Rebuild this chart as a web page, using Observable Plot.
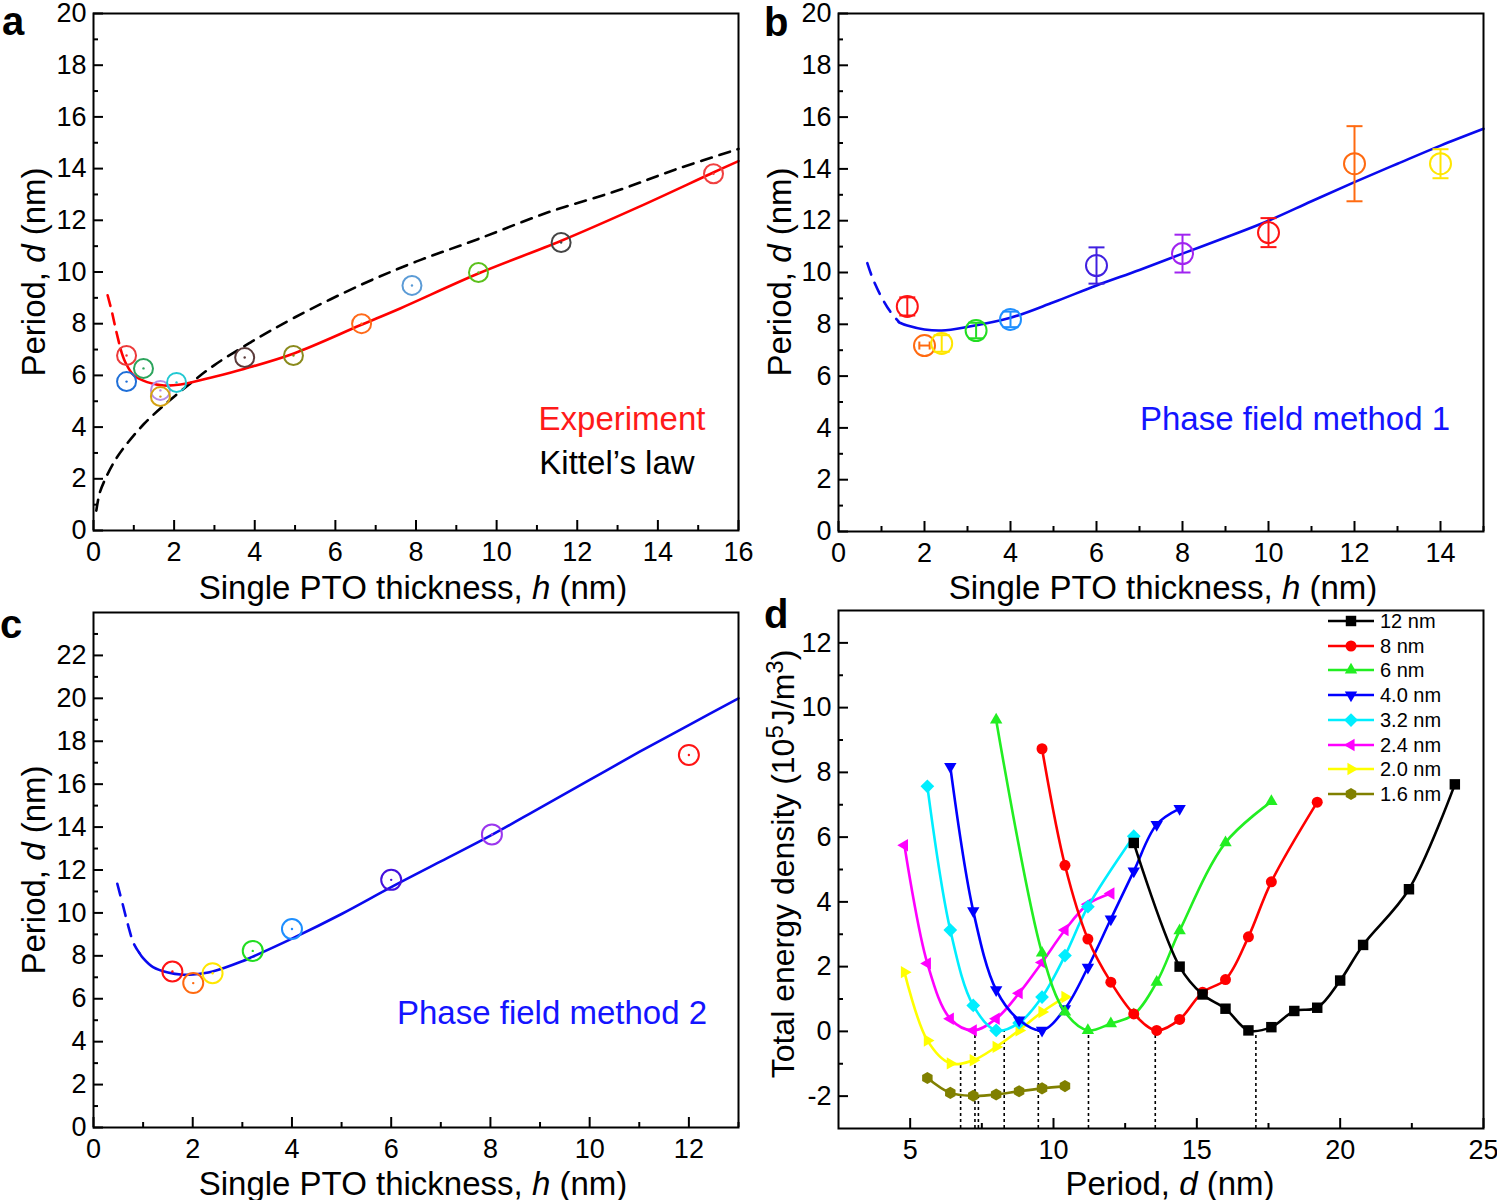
<!DOCTYPE html>
<html><head><meta charset="utf-8">
<script src="https://cdn.jsdelivr.net/npm/d3@7"></script>
<script src="https://cdn.jsdelivr.net/npm/@observablehq/plot@0.6"></script>
<style>
body{margin:0;background:#fff;font-family:"Liberation Sans",Arial,Helvetica,sans-serif;}
#wrap{position:relative;width:1497px;height:1200px;overflow:hidden;background:#fff;}
.panel{position:absolute;}
.lab{position:absolute;white-space:nowrap;color:#000;line-height:1;}
.ctr{transform:translate(-50%,-50%);}
.rot{transform:translate(-50%,-50%) rotate(-90deg);}
.leg{position:absolute;font-size:20px;line-height:1;white-space:nowrap;display:flex;align-items:center;}
</style></head><body><div id="wrap"></div>
<script>
// ---------------- Panel a: experiment ----------------
const aThickness = [0.82, 0.82, 1.24, 1.66, 1.66, 2.06, 3.75, 4.96, 6.65, 7.9, 9.55, 11.6, 15.38];
const aPeriod    = [6.77, 5.76, 6.27, 5.42, 5.18, 5.73, 6.69, 6.77, 8.0, 9.48, 9.98, 11.14, 13.8];
const aColor     = ["#ec3a3a","#1f6fd8","#2ca45c","#b58be6","#d4a212","#22c8d2","#5b3b3b","#8a8a1c","#ff6a1a","#5b9bd6","#5cc01c","#454545","#f04040"];
const aFitDashH  = [0.35, 0.45, 0.55, 0.67];
const aFitDashD  = [9.1, 8.5, 7.8, 7.03];
const aFitH      = [0.67, 0.79, 1.0, 1.33, 1.75, 2.16, 3.0, 3.73, 4.97, 6.63, 7.62, 9.56, 11.59, 13.5, 15.39, 16.0];
const aFitD      = [7.03, 6.51, 6.0, 5.74, 5.61, 5.65, 5.95, 6.25, 6.85, 7.95, 8.6, 9.95, 11.2, 12.5, 13.86, 14.29];
const kittelH    = [0.07, 0.15, 0.3, 0.55, 0.8, 1.25, 1.79, 2.41, 3.0, 3.9, 5.0, 6.63, 8.0, 9.5, 11.26, 13.0, 14.5, 16.0];
const kittelD    = [0.77, 1.43, 2.02, 2.75, 3.3, 4.12, 4.9, 5.7, 6.4, 7.28, 8.25, 9.5, 10.4, 11.25, 12.3, 13.15, 14.0, 14.76];

// ---------------- Panel b: phase field method 1 ----------------
const bThickness = [1.6, 2.0, 2.4, 3.2, 4.0, 6.0, 8.0, 10.0, 12.0, 14.0];
const bPeriod    = [8.69, 7.18, 7.26, 7.76, 8.19, 10.27, 10.73, 11.54, 14.2, 14.2];
const bErrD      = [0.35, 0, 0.32, 0.3, 0.3, 0.7, 0.73, 0.56, 1.45, 0.56];
const bErrH      = [0, 0.12, 0, 0, 0, 0, 0, 0, 0, 0];
const bColor     = ["#ff1414","#ff6a10","#ffe600","#22dd22","#1e8fff","#4020e0","#a024f0","#ff1414","#ff6a10","#ffe600"];
const bFitDashH  = [0.67, 0.8, 1.0, 1.2, 1.4];
const bFitDashD  = [10.36, 9.75, 9.05, 8.5, 8.1];
const bFitH      = [1.4, 1.6, 2.0, 2.4, 3.0, 4.0, 5.0, 6.0, 7.0, 8.0, 9.0, 10.0, 11.0, 12.0, 13.0, 14.0, 15.0];
const bFitD      = [8.08, 7.95, 7.8, 7.76, 7.9, 8.25, 8.85, 9.5, 10.1, 10.73, 11.35, 12.0, 12.75, 13.49, 14.2, 14.9, 15.55];

// ---------------- Panel c: phase field method 2 ----------------
const cThickness = [1.59, 2.01, 2.4, 3.21, 4.0, 6.0, 8.03, 12.0];
const cPeriod    = [7.27, 6.73, 7.19, 8.23, 9.25, 11.54, 13.66, 17.36];
const cColor     = ["#ff1414","#ff6a10","#ffe600","#22dd22","#1e8fff","#4410dd","#9a36ee","#ff1414"];
const cFitDashH  = [0.48, 0.6, 0.7, 0.81, 0.92];
const cFitDashD  = [11.36, 10.3, 9.4, 8.58, 8.15];
const cFitH      = [0.92, 1.0, 1.2, 1.5, 1.8, 2.0, 2.4, 3.0, 3.2, 4.0, 5.0, 6.0, 7.0, 8.0, 9.0, 10.0, 11.0, 12.0, 13.0];
const cFitD      = [8.15, 7.89, 7.47, 7.22, 7.12, 7.13, 7.27, 7.75, 7.95, 8.8, 9.95, 11.2, 12.4, 13.6, 14.9, 16.2, 17.5, 18.75, 20.0];

// ---------------- Panel d: total energy density vs period ----------------
const dSeriesNames = ["12 nm","8 nm","6 nm","4.0 nm","3.2 nm","2.4 nm","2.0 nm","1.6 nm"];
const dSeriesColors = ["#000000","#ff0000","#22ee22","#0000ff","#00eeff","#ff00ff","#ffff00","#808000"];
const d12x = [12.8, 14.4, 15.2, 16.0, 16.8, 17.6, 18.4, 19.2, 20.0, 20.8, 22.4, 24.0];
const d12y = [5.82, 2.0, 1.14, 0.70, 0.03, 0.13, 0.63, 0.73, 1.57, 2.67, 4.39, 7.63];
const d8x  = [9.6, 10.4, 11.2, 12.0, 12.8, 13.6, 14.4, 15.2, 16.0, 16.8, 17.6, 19.2];
const d8y  = [8.73, 5.13, 2.85, 1.52, 0.54, 0.03, 0.37, 1.21, 1.6, 2.92, 4.62, 7.08];
const d6x  = [8.0, 9.6, 10.4, 11.2, 12.0, 12.8, 13.6, 14.4, 16.0, 17.6];
const d6y  = [9.62, 2.42, 0.6, 0.03, 0.24, 0.52, 1.52, 3.11, 5.83, 7.1];
const d4x  = [6.4, 7.2, 8.0, 8.8, 9.6, 10.4, 11.2, 12.0, 12.8, 13.6, 14.4];
const d4y  = [8.18, 3.72, 1.28, 0.35, 0.03, 0.7, 1.98, 3.47, 4.95, 6.39, 6.88];
const d32x = [5.6, 6.4, 7.2, 8.0, 8.8, 9.6, 10.4, 11.2, 12.8];
const d32y = [7.57, 3.13, 0.8, 0.03, 0.26, 1.06, 2.34, 3.85, 6.03];
const d24x = [4.8, 5.6, 6.4, 7.2, 8.0, 8.8, 9.6, 10.4, 11.2, 12.0];
const d24y = [5.75, 2.1, 0.39, 0.03, 0.39, 1.18, 2.13, 3.13, 3.93, 4.26];
const d20x = [4.8, 5.6, 6.4, 7.2, 8.0, 8.8, 9.6, 10.4];
const d20y = [1.83, -0.28, -0.99, -0.89, -0.48, 0.03, 0.6, 1.06];
const d16x = [5.6, 6.4, 7.2, 8.0, 8.8, 9.6, 10.4];
const d16y = [-1.44, -1.9, -1.99, -1.95, -1.85, -1.76, -1.69];
const dMinPeriod = [17.06, 13.55, 11.22, 9.47, 8.28, 7.26, 6.76, 7.38];
const dMinEnergy = [0.0, 0.0, 0.0, 0.0, 0.0, 0.0, -0.97, -1.98];

// ---------------- tick labels ----------------
const aXTicks = [0,2,4,6,8,10,12,14,16], aXMinor = [1,3,5,7,9,11,13,15];
const aYTicks = [0,2,4,6,8,10,12,14,16,18,20], aYMinor = [1,3,5,7,9,11,13,15,17,19];
const bXTicks = [0,2,4,6,8,10,12,14], bXMinor = [1,3,5,7,9,11,13,15];
const cXTicks = [0,2,4,6,8,10,12], cXMinor = [1,3,5,7,9,11,13];
const cYTicks = [0,2,4,6,8,10,12,14,16,18,20,22], cYMinor = [1,3,5,7,9,11,13,15,17,19,21,23];
const dXTicks = [5,10,15,20,25], dXMinor = [7.5,12.5,17.5,22.5];
const dYTicks = [-2,0,2,4,6,8,10,12], dYMinor = [-1,1,3,5,7,9,11];

// ---------------- helpers ----------------
const FONT = '"Liberation Sans", Arial, Helvetica, sans-serif';
const wrap = document.getElementById("wrap");
const zip = (xs, ys) => xs.map((x, i) => ({x, y: ys[i]}));

function triangle(angle) {
  return {draw(ctx, size) {
    const r = Math.sqrt(size / Math.PI) * 1.3;
    for (let k = 0; k < 3; k++) {
      const a = angle + k * 2 * Math.PI / 3;
      const px = r * Math.sin(a), py = -r * Math.cos(a);
      if (k === 0) ctx.moveTo(px, py); else ctx.lineTo(px, py);
    }
    ctx.closePath();
  }};
}
const hexagon = {draw(ctx, size) {
  const r = Math.sqrt(size / Math.PI) * 1.1;
  for (let k = 0; k < 6; k++) {
    const a = k * Math.PI / 3;
    const px = r * Math.sin(a), py = -r * Math.cos(a);
    if (k === 0) ctx.moveTo(px, py); else ctx.lineTo(px, py);
  }
  ctx.closePath();
}};
const square = {draw(ctx, size) {
  const s = Math.sqrt(size / Math.PI) * 0.95;
  ctx.rect(-s, -s, 2 * s, 2 * s);
}};
const circle = {draw(ctx, size) {
  const r = Math.sqrt(size / Math.PI);
  ctx.moveTo(r, 0); ctx.arc(0, 0, r, 0, 2 * Math.PI);
}};
const diamond = {draw(ctx, size) {
  const r = Math.sqrt(size / Math.PI) * 1.25;
  ctx.moveTo(0, -r); ctx.lineTo(r, 0); ctx.lineTo(0, r); ctx.lineTo(-r, 0); ctx.closePath();
}};
const hline = {draw(ctx, size) { const w = Math.sqrt(size / Math.PI); ctx.moveTo(-w, 0); ctx.lineTo(w, 0); }};
const vline = {draw(ctx, size) { const w = Math.sqrt(size / Math.PI); ctx.moveTo(0, -w); ctx.lineTo(0, w); }};
const dSymbols = [square, circle, triangle(0), triangle(Math.PI), diamond, triangle(-Math.PI / 2), triangle(Math.PI / 2), hexagon];

function axes(xMaj, xMin, yMaj, yMin) {
  const fmt = d => String(d);
  return [
    Plot.axisX(xMaj, {tickSize: -10, tickPadding: 21, strokeWidth: 2, tickFormat: fmt, label: null}),
    Plot.axisX(xMin, {tickSize: -5, tickPadding: 0, strokeWidth: 2, tickFormat: () => "", label: null}),
    Plot.axisY(yMaj, {tickSize: -10, tickPadding: 17, strokeWidth: 2, tickFormat: fmt, label: null}),
    Plot.axisY(yMin, {tickSize: -5, tickPadding: 0, strokeWidth: 2, tickFormat: () => "", label: null})
  ];
}
const style = {fontFamily: FONT, fontSize: "27px", color: "#000", background: "transparent", overflow: "visible"};

function place(svg, left, top) {
  const div = document.createElement("div");
  div.className = "panel"; div.style.left = left + "px"; div.style.top = top + "px";
  div.appendChild(svg); wrap.appendChild(div);
}
function text(html, x, y, cls, css) {
  const el = document.createElement("div");
  el.className = "lab " + (cls || "");
  el.style.left = x + "px"; el.style.top = y + "px";
  Object.assign(el.style, css || {});
  el.innerHTML = html; wrap.appendChild(el);
}

// ---------------- Panel a ----------------
const aPts = aThickness.map((h, i) => ({h, d: aPeriod[i], c: aColor[i]}));
place(Plot.plot({
  width: 760, height: 600, marginLeft: 93, marginRight: 22, marginTop: 13, marginBottom: 70,
  x: {domain: [0, 16]}, y: {domain: [0, 20]}, color: {type: "identity"}, style,
  marks: [
    Plot.line(zip(kittelH, kittelD), {x: "x", y: "y", stroke: "#000", strokeWidth: 2.6, strokeDasharray: "11,8", curve: "catmull-rom"}),
    Plot.line(zip(aFitDashH, aFitDashD), {x: "x", y: "y", stroke: "#ff0000", strokeWidth: 2.6, strokeDasharray: "11,8", curve: "catmull-rom"}),
    Plot.line(zip(aFitH, aFitD), {x: "x", y: "y", stroke: "#ff0000", strokeWidth: 2.6, curve: "catmull-rom"}),
    Plot.dot(aPts, {x: "h", y: "d", r: 9.5, stroke: "c", strokeWidth: 2, fill: "none"}),
    Plot.dot(aPts, {x: "h", y: "d", r: 1.2, fill: "c", stroke: null}),
    Plot.frame({stroke: "#000", strokeWidth: 2}),
    ...axes(aXTicks, aXMinor, aYTicks, aYMinor)
  ]
}), 0, 0);

// ---------------- Panel b ----------------
const bPts = bThickness.map((h, i) => ({h, d: bPeriod[i], e: bErrD[i], eh: bErrH[i], c: bColor[i]}));
const bV = bPts.filter(p => p.e > 0), bHz = bPts.filter(p => p.eh > 0);
place(Plot.plot({
  width: 752, height: 600, marginLeft: 93, marginRight: 14, marginTop: 13, marginBottom: 69,
  x: {domain: [0, 15]}, y: {domain: [0, 20]}, color: {type: "identity"}, style,
  marks: [
    Plot.line(zip(bFitDashH, bFitDashD), {x: "x", y: "y", stroke: "#0a0aee", strokeWidth: 2.6, strokeDasharray: "12,9", curve: "catmull-rom"}),
    Plot.line(zip(bFitH, bFitD), {x: "x", y: "y", stroke: "#0a0aee", strokeWidth: 2.6, curve: "catmull-rom"}),
    Plot.ruleX(bV, {x: "h", y1: p => p.d - p.e, y2: p => p.d + p.e, stroke: "c", strokeWidth: 2}),
    Plot.dot(bV, {x: "h", y: p => p.d + p.e, symbol: hline, r: 8, stroke: "c", strokeWidth: 2, fill: "none"}),
    Plot.dot(bV, {x: "h", y: p => p.d - p.e, symbol: hline, r: 8, stroke: "c", strokeWidth: 2, fill: "none"}),
    Plot.ruleY(bHz, {y: "d", x1: p => p.h - p.eh, x2: p => p.h + p.eh, stroke: "c", strokeWidth: 2}),
    Plot.dot(bHz, {x: p => p.h - p.eh, y: "d", symbol: vline, r: 4, stroke: "c", strokeWidth: 2, fill: "none"}),
    Plot.dot(bHz, {x: p => p.h + p.eh, y: "d", symbol: vline, r: 4, stroke: "c", strokeWidth: 2, fill: "none"}),
    Plot.dot(bPts, {x: "h", y: "d", r: 10.5, stroke: "c", strokeWidth: 2, fill: "none"}),
    Plot.frame({stroke: "#000", strokeWidth: 2}),
    ...axes(bXTicks, bXMinor, aYTicks, aYMinor)
  ]
}), 745, 0);

// ---------------- Panel c ----------------
const cPts = cThickness.map((h, i) => ({h, d: cPeriod[i], c: cColor[i]}));
place(Plot.plot({
  width: 760, height: 600, marginLeft: 93, marginRight: 22, marginTop: 12, marginBottom: 73,
  x: {domain: [0, 13]}, y: {domain: [0, 24]}, color: {type: "identity"}, style,
  marks: [
    Plot.line(zip(cFitDashH, cFitDashD), {x: "x", y: "y", stroke: "#0a0aee", strokeWidth: 2.6, strokeDasharray: "12,9", curve: "catmull-rom"}),
    Plot.line(zip(cFitH, cFitD), {x: "x", y: "y", stroke: "#0a0aee", strokeWidth: 2.6, curve: "catmull-rom"}),
    Plot.dot(cPts, {x: "h", y: "d", r: 10, stroke: "c", strokeWidth: 2, fill: "none"}),
    Plot.dot(cPts, {x: "h", y: "d", r: 1.2, fill: "c", stroke: null}),
    Plot.frame({stroke: "#000", strokeWidth: 2}),
    ...axes(cXTicks, cXMinor, cYTicks, cYMinor)
  ]
}), 0, 600);

// ---------------- Panel d ----------------
const dXs = [d12x, d8x, d6x, d4x, d32x, d24x, d20x, d16x];
const dYs = [d12y, d8y, d6y, d4y, d32y, d24y, d20y, d16y];
const dMarks = [];
const dMins = dMinPeriod.map((p, i) => ({p, e: dMinEnergy[i]}));
dMarks.push(Plot.ruleX(dMins, {x: "p", y1: -3, y2: "e", stroke: "#000", strokeWidth: 1.6, strokeDasharray: "3,3"}));
for (let i = dXs.length - 1; i >= 0; i--) {
  const data = zip(dXs[i], dYs[i]);
  dMarks.push(Plot.line(data, {x: "x", y: "y", stroke: dSeriesColors[i], strokeWidth: 2.6, curve: "catmull-rom"}));
  dMarks.push(Plot.dot(data, {x: "x", y: "y", symbol: dSymbols[i], r: 5.5, fill: dSeriesColors[i], stroke: null}));
}
place(Plot.plot({
  width: 752, height: 600, marginLeft: 93, marginRight: 14, marginTop: 10, marginBottom: 72,
  x: {domain: [2.5, 25]}, y: {domain: [-3, 13]}, style,
  marks: [
    ...dMarks,
    Plot.frame({stroke: "#000", strokeWidth: 2}),
    ...axes(dXTicks, dXMinor, dYTicks, dYMinor)
  ]
}), 745, 600);

// ---------------- legend (panel d) ----------------
dSeriesNames.forEach((name, i) => {
  const p = d3.path();
  dSymbols[i].draw(p, Math.PI * 5.5 * 5.5);
  const row = document.createElement("div");
  row.className = "leg";
  row.style.left = "1327px"; row.style.top = (611 + i * 24.7) + "px";
  row.innerHTML = `<svg width="48" height="20" style="margin-right:5px"><line x1="1" x2="47" y1="10" y2="10" stroke="${dSeriesColors[i]}" stroke-width="2.6"/><path transform="translate(24,10)" d="${p.toString()}" fill="${dSeriesColors[i]}"/></svg><span>${name}</span>`;
  wrap.appendChild(row);
});

// ---------------- titles, labels ----------------
const T = {fontSize: "33px"};
text("Single PTO thickness, <i>h</i> (nm)", 413, 587, "ctr", T);
text("Period, <i>d</i> (nm)", 33, 272, "rot", T);
text("Single PTO thickness, <i>h</i> (nm)", 1163, 587, "ctr", T);
text("Period, <i>d</i> (nm)", 779, 272, "rot", T);
text("Single PTO thickness, <i>h</i> (nm)", 413, 1183, "ctr", T);
text("Period, <i>d</i> (nm)", 33, 870, "rot", T);
text("Period, <i>d</i> (nm)", 1170, 1183, "ctr", T);
text("Total energy density (10<sup style='font-size:24px'>5</sup>J/m<sup style='font-size:24px'>3</sup>)", 781, 864, "rot", {fontSize: "32px"});
text("Experiment", 622, 418, "ctr", {fontSize: "33px", color: "#ff1a1a"});
text("Kittel’s law", 617, 462, "ctr", {fontSize: "33px", color: "#000"});
text("Phase field method 1", 1295, 418, "ctr", {fontSize: "33px", color: "#1414ff"});
text("Phase field method 2", 552, 1012, "ctr", {fontSize: "33px", color: "#1414ff"});
const P = {fontSize: "40px", fontWeight: "bold"};
text("a", 2, 1, "", P);
text("b", 764, 2, "", P);
text("c", 0, 604, "", P);
text("d", 764, 594, "", P);
</script></body></html>
